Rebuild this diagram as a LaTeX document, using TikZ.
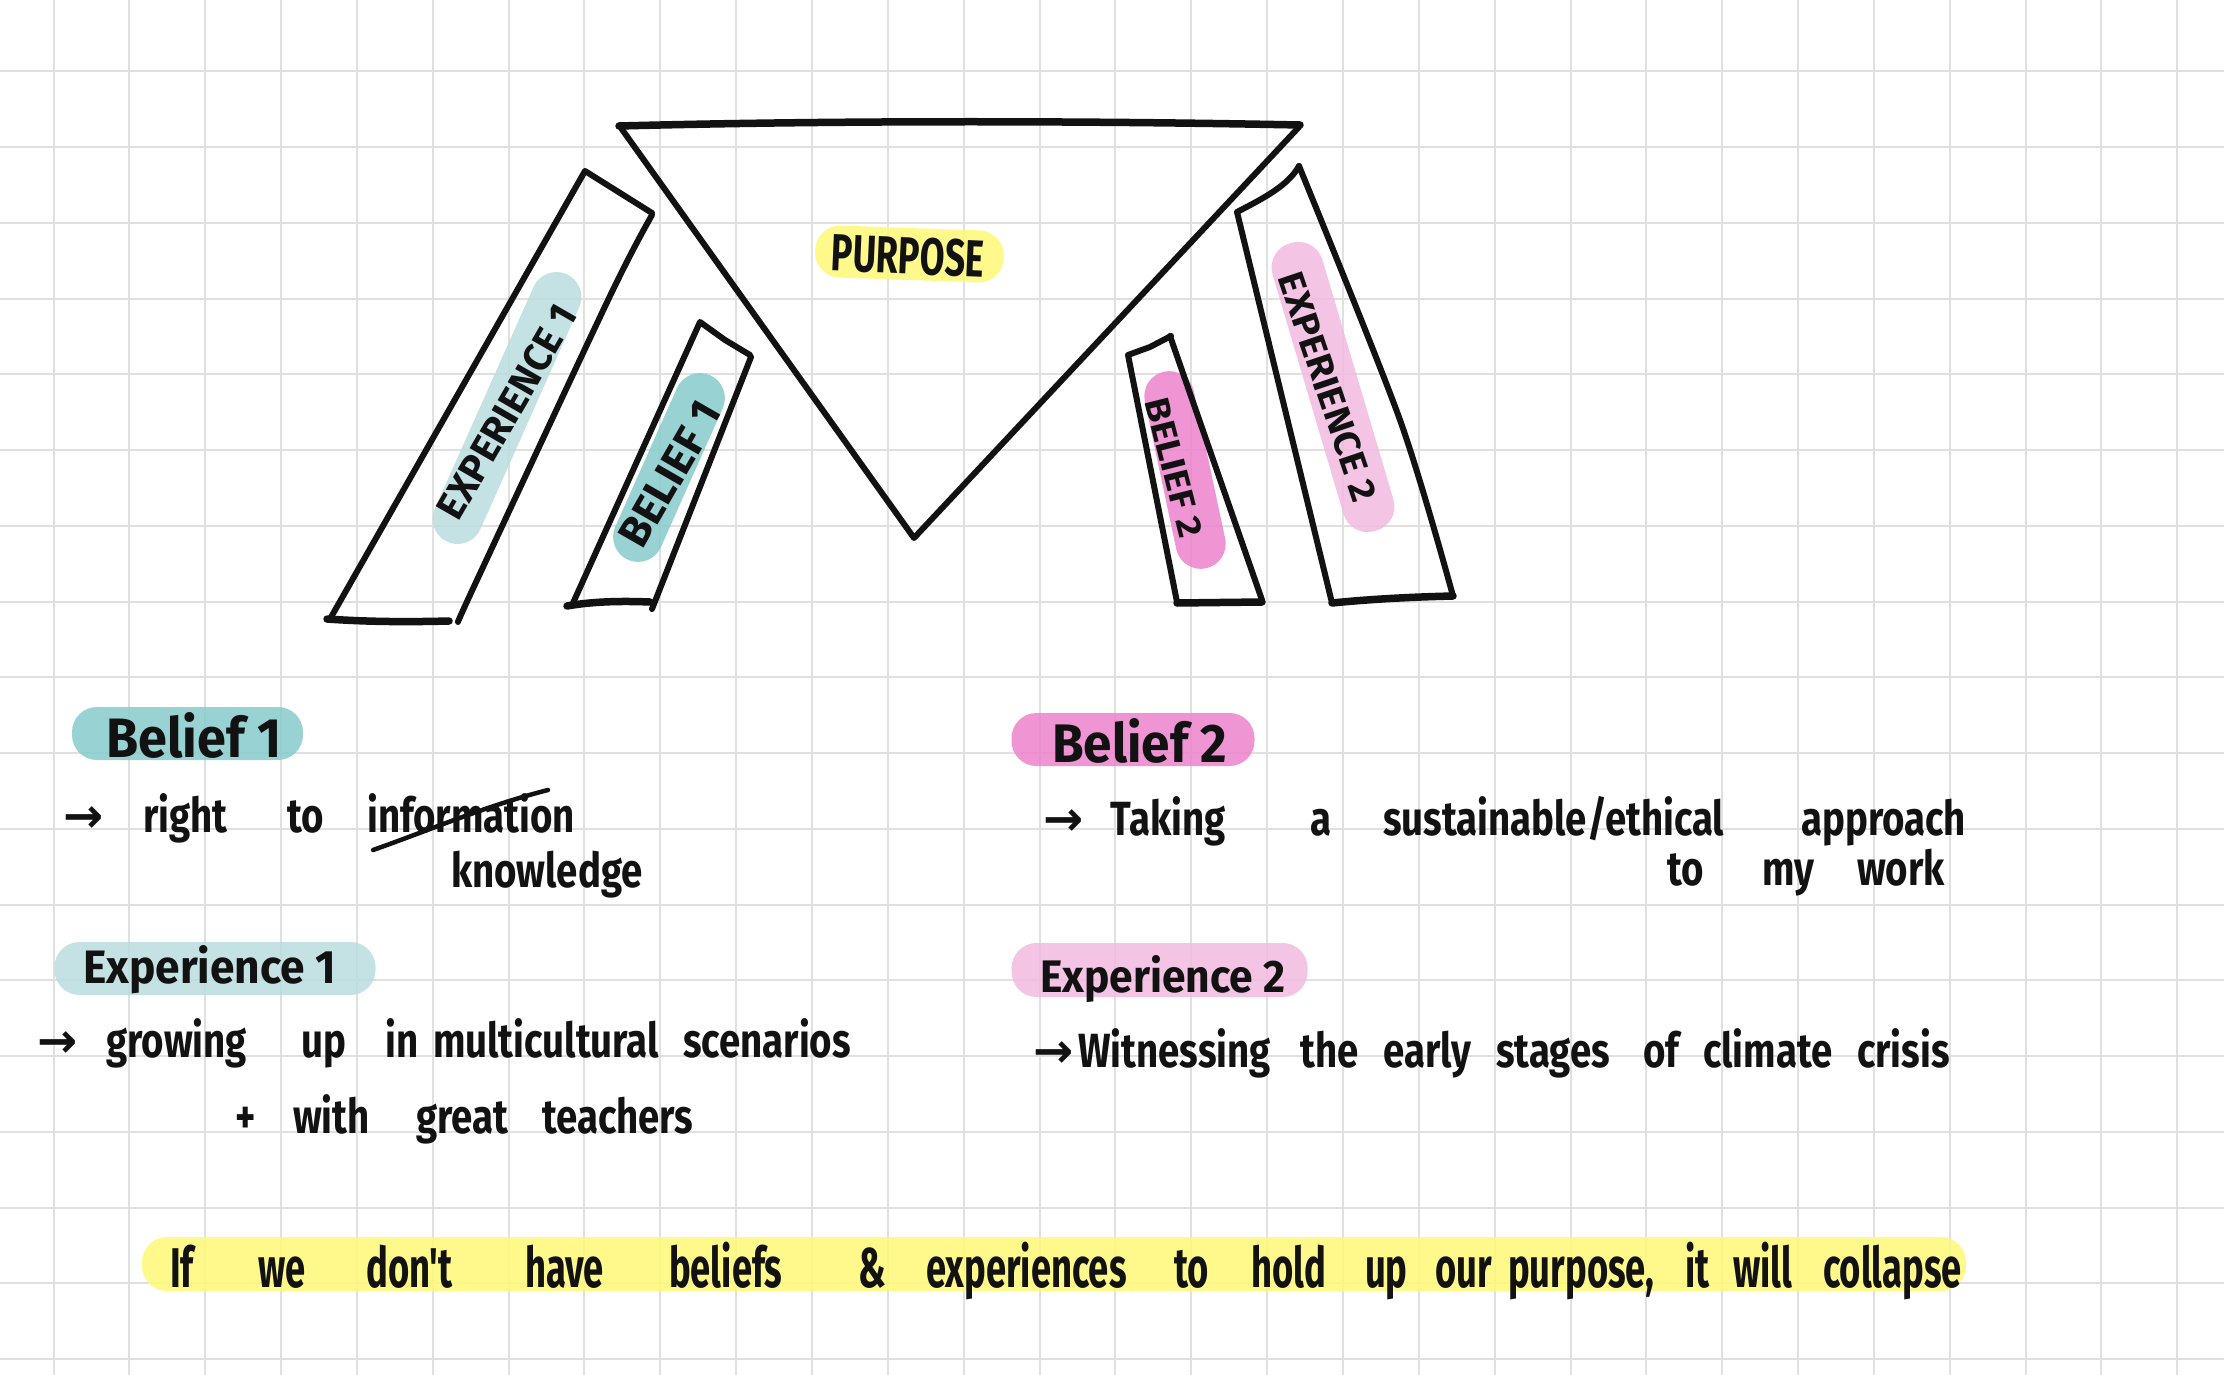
\documentclass[tikz,border=0pt]{standalone}
\usepackage{fontspec}
\usepackage{graphicx}
\setmainfont{Fira Sans}
% hand-lettering stand-ins: condensed bold sans
\newfontfamily\inkfont[FakeStretch=0.8]{Fira Sans}
\newfontfamily\barfont[FakeStretch=0.65]{Fira Sans}
\newfontfamily\slabfont{Fira Sans}
\newfontfamily\arrowfont{DejaVu Sans}

\definecolor{gridgray}{RGB}{224,224,224}
\definecolor{inkblack}{RGB}{18,18,18}
\definecolor{tealdark}{RGB}{134,203,204}
\definecolor{teallight}{RGB}{186,221,223}
\definecolor{pinkdark}{RGB}{237,131,204}
\definecolor{pinklight}{RGB}{241,186,223}
\definecolor{hlyellow}{RGB}{255,249,120}

% place a word at a fixed offset from the start of its line
\newcommand\wordat[2]{\makebox[0pt][l]{\hspace*{#1pt}#2}}
\newcommand\inkrow[2]{\hbox to #1pt{#2\hfil}}
\newcommand\arr{{\arrowfont\bfseries →}}

\begin{document}
\begin{tikzpicture}[x=1pt,y=-1pt,
  gridline/.style={draw=gridgray,line width=2pt},
  ink/.style={draw=inkblack,line width=6pt,line cap=round,line join=round},
  inkbold/.style={ink,line width=7.5pt},
  capsule/.style={rectangle,inner sep=0pt,draw=none,fill opacity=0.85,rounded corners=25pt},
  slablabel/.style={inner sep=0pt,text=inkblack},
  heading/.style={anchor=base west,inner sep=0pt,text=inkblack},
  inkline/.style={anchor=base west,inner sep=0pt,text=inkblack,
    font=\inkfont\fontsize{48}{56}\selectfont\bfseries},
  barline/.style={anchor=base west,inner sep=0pt,text=inkblack,
    font=\barfont\fontsize{56}{60}\selectfont\bfseries}
]
% page and squared paper
\fill[white] (0,0) rectangle (2224,1375);
\useasboundingbox (0,0) rectangle (2224,1375);
\foreach \k in {0,...,28}
  \draw[gridline] ({53.5+75.85*\k},0) -- ({53.5+75.85*\k},1375);
\foreach \k in {0,...,17}
  \draw[gridline] (0,{71.3+75.75*\k}) -- (2224,{71.3+75.75*\k});

% highlighter strokes
\node[capsule,fill=hlyellow,minimum width=189pt,minimum height=52pt,rotate=-2] (purposehl) at (909.5,254) {};
\node[capsule,fill=teallight,minimum width=293pt,minimum height=50pt,rotate=66] (exponehl) at (507,408) {};
\node[capsule,fill=tealdark,minimum width=202pt,minimum height=50pt,rotate=66] (beloneh) at (669,467.5) {};
\node[capsule,fill=pinkdark,minimum width=201pt,minimum height=50pt,rotate=-78] (beltwohl) at (1185,470) {};
\node[capsule,fill=pinklight,minimum width=300pt,minimum height=52pt,rotate=-73.5] (exptwohl) at (1333,387) {};

\node[capsule,fill=tealdark,minimum width=231pt,minimum height=53pt] (belonehead) at (187.5,733.5) {};
\node[capsule,fill=teallight,minimum width=321pt,minimum height=53pt] (exponehead) at (215,968.5) {};
\node[capsule,fill=pinkdark,minimum width=243pt,minimum height=53pt] (beltwohead) at (1133,739.5) {};
\node[capsule,fill=pinklight,minimum width=296pt,minimum height=54pt] (exptwohead) at (1159.6,970) {};
\node[capsule,fill=hlyellow,minimum width=1824pt,minimum height=54pt] (barhl) at (1054,1264) {};

% purpose: the inverted triangle
\draw[ink] (621,128) -- (914,538) -- (1299,127);
\draw[inkbold] (619,126) .. controls (850,120) and (1100,121) .. (1300,125);

% experience 1 slab
\draw[ink] (652,213) -- (585,171) -- (330,619);
\draw[inkbold] (327,619) .. controls (370,622) and (410,622) .. (449,621);
\draw[ink] plot[smooth,tension=0.5] coordinates {(652,215) (610,296) (477,580) (458,622)};

% belief 1 slab
\draw[ink] (750,355) -- (725,340) -- (700,322) -- (573,603);
\draw[inkbold] (567,606) .. controls (595,601) and (625,601) .. (650,602);
\draw[ink] (751,357) -- (652,609);

% belief 2 slab
\draw[ink] (1171,336) -- (1150,347) -- (1128,355) -- (1177,602);
\draw[inkbold] (1177,603) -- (1262,602);
\draw[ink] (1170,336) -- (1262,600);

% experience 2 slab
\draw[ink] (1332,603) -- (1237,212) .. controls (1262,199) and (1288,186) .. (1299,166);
\draw[inkbold] (1332,603) .. controls (1372,599) and (1412,597) .. (1453,596);
\draw[ink] plot[smooth,tension=0.5] coordinates {(1299,166) (1400,420) (1453,596)};

% slab lettering
\node[slablabel,rotate=-2.5] (purpose) at (908,256) {\resizebox{153pt}{37pt}{\slabfont\bfseries PURPOSE}};
\node[slablabel,rotate=60] (expone) at (507,412) {\resizebox{240pt}{28pt}{\slabfont\bfseries EXPERIENCE 1}};
\node[slablabel,rotate=60] (belone) at (670,474) {\resizebox{160pt}{30pt}{\slabfont\bfseries BELIEF 1}};
\node[slablabel,rotate=-75.8] (beltwo) at (1174,467.5) {\resizebox{143pt}{24pt}{\slabfont\bfseries BELIEF 2}};
\node[slablabel,rotate=-71.3] (exptwo) at (1328,387) {\resizebox{239pt}{26pt}{\slabfont\bfseries EXPERIENCE 2}};

% notes, left column
\node[heading] (beloneword) at (106,757) {\resizebox{175pt}{45pt}{\slabfont\bfseries Belief 1}};
\node[inkline] (beloneline) at (63,832) {\inkrow{520}{\wordat{0}{\arr}\wordat{80}{right}\wordat{224}{to}\wordat{304}{information}}};
\draw[ink,line width=4.5pt] (373,850) .. controls (430,830) and (485,806) .. (548,790);
\node[inkline] (belonefix) at (451,887) {knowledge};

\node[heading] (exponeword) at (83,983) {\resizebox{253pt}{38pt}{\slabfont\bfseries Experience 1}};
\node[inkline] (exponeline) at (37,1057) {\inkrow{807}{\wordat{0}{\arr}\wordat{69}{growing}\wordat{264}{up}\wordat{348}{in}\wordat{396}{multicultural}\wordat{646}{scenarios}}};
\node[inkline] (exponemore) at (235,1133) {\inkrow{457}{\wordat{0}{+}\wordat{58}{with}\wordat{181}{great}\wordat{307}{teachers}}};

% notes, right column
\node[heading] (beltwoword) at (1052,762) {\resizebox{175pt}{44pt}{\slabfont\bfseries Belief 2}};
\node[inkline] (beltwoline) at (1043,835) {\inkrow{919}{\wordat{0}{\arr}\wordat{67}{Taking}\wordat{267}{a}\wordat{340}{sustainable/ethical}\wordat{758}{approach}}};
\node[inkline] (beltwomore) at (1667,885) {\inkrow{274}{\wordat{0}{to}\wordat{95}{my}\wordat{190}{work}}};

\node[heading] (exptwoword) at (1040,992) {\resizebox{245pt}{37pt}{\slabfont\bfseries Experience 2}};
\node[inkline] (exptwoline) at (1033,1067) {\inkrow{917}{\wordat{0}{\arr}\wordat{45}{Witnessing}\wordat{267}{the}\wordat{350}{early}\wordat{463}{stages}\wordat{610}{of}\wordat{670}{climate}\wordat{824}{crisis}}};

% closing statement
\node[barline] (closing) at (170,1287) {\inkrow{1782}{\wordat{0}{If}\wordat{88}{we}\wordat{196}{don't}\wordat{355}{have}\wordat{499}{beliefs}\wordat{688}{\&}\wordat{756}{experiences}\wordat{1004}{to}\wordat{1081}{hold}\wordat{1195}{up}\wordat{1265}{our}\wordat{1338}{purpose,}\wordat{1515}{it}\wordat{1563}{will}\wordat{1653}{collapse}}};
\end{tikzpicture}
\end{document}
